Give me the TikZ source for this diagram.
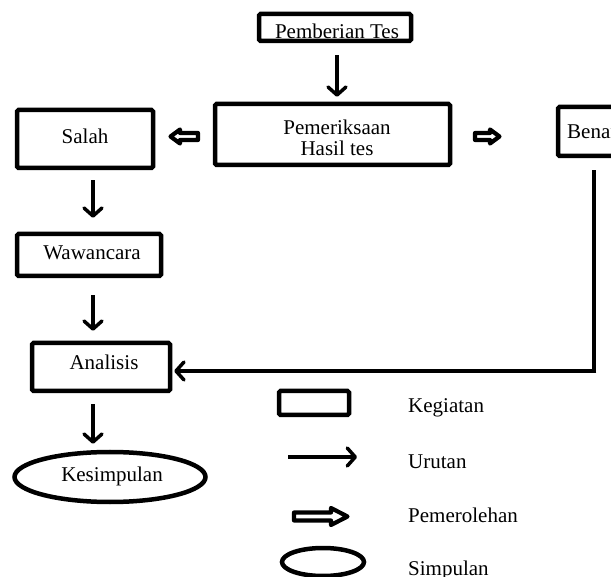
\documentclass[tikz,border=0pt]{standalone}
\usepackage{fontspec}
\setmainfont{Liberation Serif}
\usetikzlibrary{arrows.meta,shapes.geometric}
\begin{document}
\begin{tikzpicture}[x=1pt,y=-1pt,
 box/.style={draw, line width=4.5pt, rounded corners=1.5pt, inner sep=0pt},
 txt/.style={font=\fontsize{21}{21}\selectfont, inner sep=0pt},
 arr/.style={line width=3.5pt, -{Straight Barb[length=8pt,width=18pt,round]}},
 blkarr/.style={draw, line width=4.2pt, line join=round},
 ell/.style={ellipse, draw, line width=4.5pt, inner sep=0pt}]
\useasboundingbox (0,0) rectangle (611,577);
\clip (0,0) rectangle (611,577);
% boxes
\node[box, minimum width=152pt, minimum height=27pt] (pemb) at (335,27.5) {};
\node[txt, anchor=base] (pembt) at (337,39) {Pemberian Tes};
\node[box, minimum width=235pt, minimum height=61pt] (pem) at (332.5,134.5) {};
\node[txt, align=center] (pemt) at (337,138) {Pemeriksaan\\Hasil tes};
\node[box, minimum width=136pt, minimum height=58pt] (salah) at (85,139) {};
\node[txt] (salaht) at (85,136) {Salah};
\node[box, minimum width=144pt, minimum height=42pt] (wawan) at (89,255) {};
\node[txt] (wawant) at (92,253) {Wawancara};
\node[box, minimum width=138pt, minimum height=48pt] (anal) at (101,367) {};
\node[txt] (analt) at (104,362) {Analisis};
\node[box, minimum width=90pt, minimum height=49pt] (benar) at (603,131.5) {};
\node[txt, anchor=west] (benart) at (567,132) {Benar};
\node[ell, minimum width=191pt, minimum height=50pt] (kes) at (110,477) {};
\node[txt] (kest) at (112,476) {Kesimpulan};
% block arrows
\draw[blkarr] (198,133) -- (180,133) -- (180,129.5) -- (170.5,136.5) -- (180,143.5)
  -- (180,140) -- (198,140) -- cycle;
\draw[blkarr] (475,133) -- (490,133) -- (490,129.5) -- (499.5,136.5) -- (490,143.5)
  -- (490,140) -- (475,140) -- cycle;
% connectors
\coordinate (colA) at (93,0);
\coordinate (colB) at (594,0);
\coordinate (turn) at (594,371);
\draw[arr, shorten <=12pt, shorten >=5pt] ([xshift=2pt]pemb.south) -- ([xshift=4.5pt]pem.north);
\draw[arr, shorten <=10pt, shorten >=14pt] (salah.south -| colA) -- (wawan.north -| colA);
\draw[arr, shorten <=17pt, shorten >=10pt] (wawan.south -| colA) -- (anal.north -| colA);
\draw[arr, shorten <=11pt, shorten >=6pt] (anal.south -| colA) -- (kes.north -| colA);
\draw[line width=4.5pt, shorten <=12pt] (benar.south -| colB) -- ([yshift=2.25pt]turn);
\draw[arr, shorten >=2pt] ([xshift=2.25pt]turn) -- (anal.east |- turn);
% legend
\node[box, minimum width=70pt, minimum height=24pt] (lrect) at (314,403) {};
\node[txt, anchor=base west] (lkeg) at (408,413) {Kegiatan};
\coordinate (la1) at (288,457);
\coordinate (la2) at (357,457);
\draw[arr] (la1) -- (la2);
\node[txt, anchor=base west] (luru) at (408,468) {Urutan};
\draw[blkarr] (294,512.5) -- (331,512.5) -- (331,508) -- (347.5,516.5) -- (331,525)
  -- (331,520.5) -- (294,520.5) -- cycle;
\node[txt, anchor=base west] (lpem) at (408,522) {Pemerolehan};
\node[ell, minimum width=82pt, minimum height=28pt] (lell) at (323,562) {};
\node[txt, anchor=base west] (lsim) at (408,575) {Simpulan};
\end{tikzpicture}
\end{document}
